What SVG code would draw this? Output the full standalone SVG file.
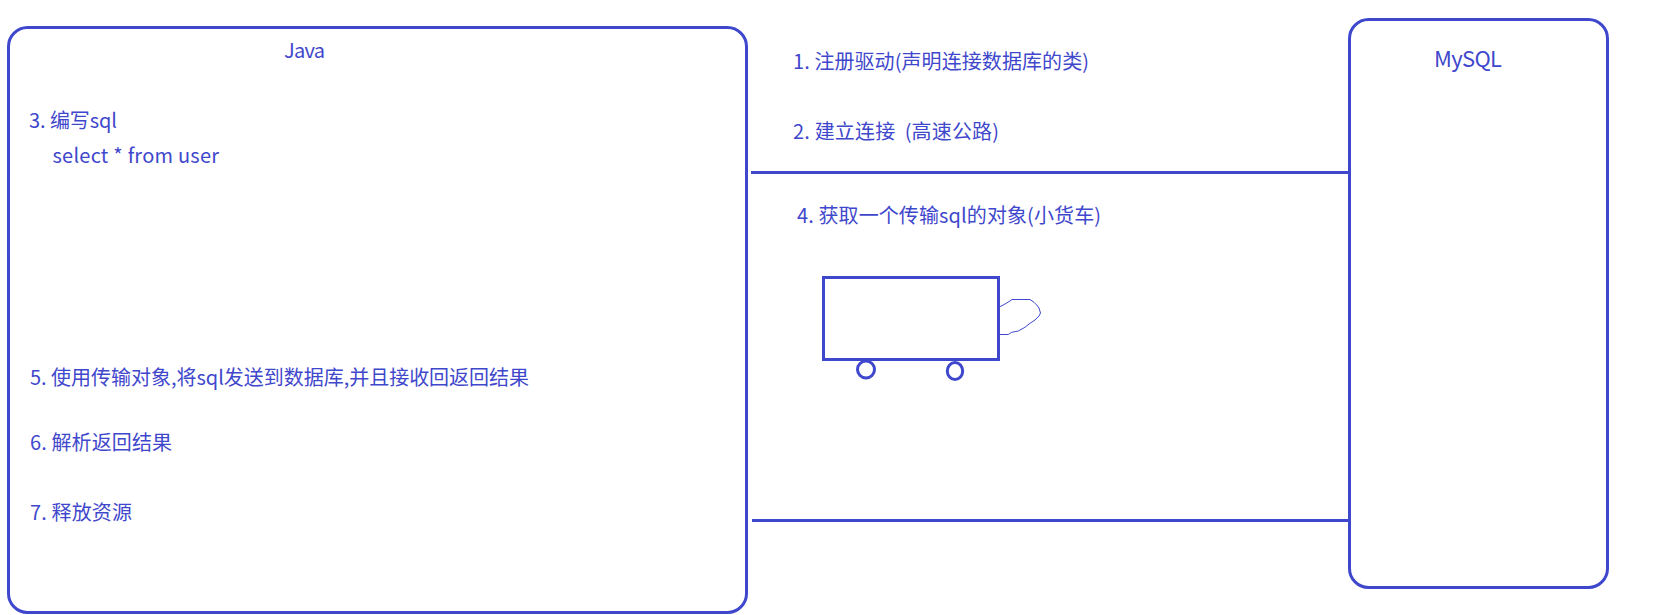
<svg xmlns="http://www.w3.org/2000/svg" width="1663" height="615" viewBox="0 0 1663 615">
<style>
.s{fill:none;stroke:#3f48cc;stroke-width:3}
.t{fill:#3f48cc;font-family:"Noto Sans CJK SC","Noto Sans",sans-serif;font-size:20px;white-space:pre}
.th{fill:none;stroke:#3f48cc;stroke-width:1}
</style>
<rect width="1663" height="615" fill="#ffffff"/>
<g id="java">
<rect class="s" x="8.500" y="27.500" width="738" height="585" rx="19" ry="19"/>
<text class="t" x="284" y="58" textLength="41">Java</text>
<text class="t" x="29" y="127.500" textLength="88">3. 编写sql</text>
<text class="t" x="52.500" y="163" textLength="166.500">select * from user</text>
<text class="t" x="30" y="385" textLength="499">5. 使用传输对象,将sql发送到数据库,并且接收回返回结果</text>
<text class="t" x="30" y="449.500" textLength="142">6. 解析返回结果</text>
<text class="t" x="30" y="520" textLength="102">7. 释放资源</text>
</g>
<g id="mysql">
<rect class="s" x="1349.500" y="19.500" width="258" height="568" rx="19" ry="19"/>
<text class="t" style="font-size:22px" x="1434" y="66.500" textLength="68">MySQL</text>
</g>
<g id="connectors">
<line class="s" x1="751" y1="172.500" x2="1349" y2="172.500"/>
<line class="s" x1="752" y1="520.500" x2="1349" y2="520.500"/>
</g>
<g id="steps">
<text class="t" x="793" y="69" textLength="296">1. 注册驱动(声明连接数据库的类)</text>
<text class="t" x="793" y="139" textLength="206">2. 建立连接  (高速公路)</text>
<text class="t" x="797" y="222.500" textLength="304">4. 获取一个传输sql的对象(小货车)</text>
</g>
<g id="truck">
<rect class="s" x="823.500" y="277.500" width="175" height="82"/>
<circle class="s" cx="866" cy="369.500" r="8.500"/>
<ellipse class="s" cx="955" cy="371" rx="7.700" ry="8.500"/>
<path class="th" d="M1000 306.700L1005 304L1010 301L1012 299.500L1030 299.500L1034 302.300L1036.700 305L1039 308L1040.500 313L1039 316L1035 320L1030 323.300L1025 327.300L1018.300 331L1011.700 332.300L1008.300 334.500L1000 334.500"/>
</g>
</svg>
